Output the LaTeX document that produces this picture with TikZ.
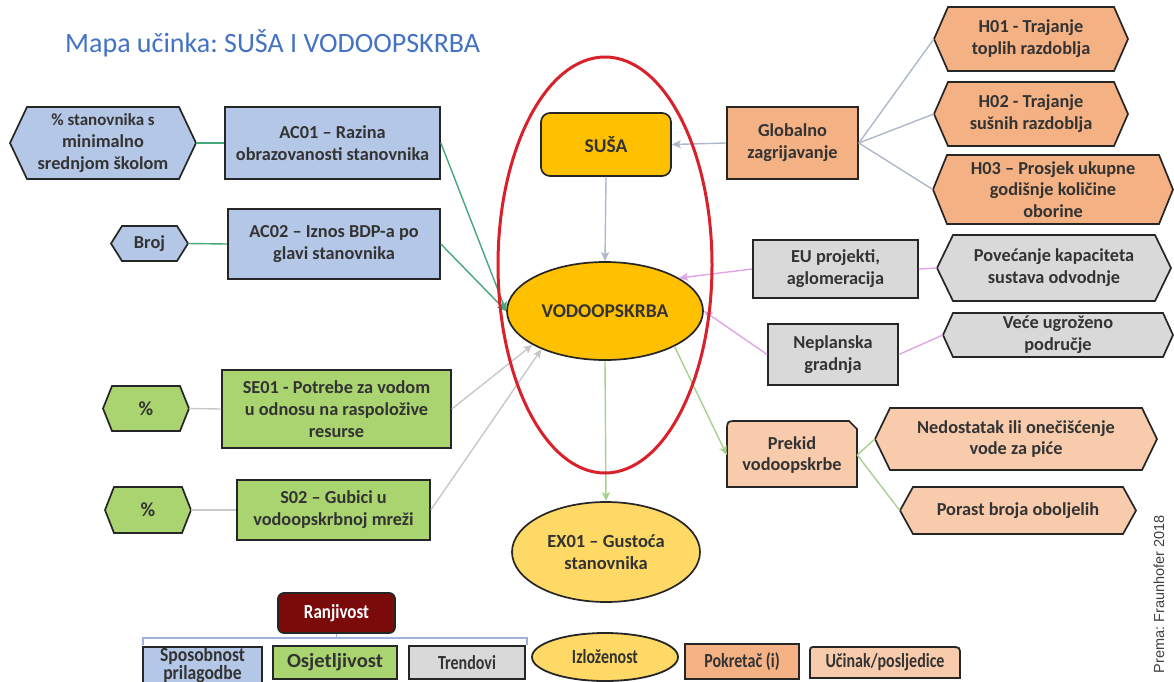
\documentclass[tikz,border=0pt]{standalone}
\usepackage{fontspec}
\usepackage{graphicx}
\setmainfont{Carlito}
\newfontfamily\creditfont{Liberation Sans}
\usetikzlibrary{shapes.geometric,arrows.meta}
\frenchspacing

\definecolor{boxline}{HTML}{262626}
\definecolor{txt}{HTML}{333333}
\definecolor{capblue}{HTML}{B4C7E7}
\definecolor{sensgreen}{HTML}{A9D470}
\definecolor{driver}{HTML}{F4B183}
\definecolor{impact}{HTML}{F8CBAD}
\definecolor{trendgray}{HTML}{D9D9D9}
\definecolor{hazard}{HTML}{FFC000}
\definecolor{expo}{HTML}{FFD966}
\definecolor{vulnred}{HTML}{7B0A0A}
\definecolor{ringred}{HTML}{D9212B}
\definecolor{titleblue}{HTML}{4472C4}
\definecolor{linkteal}{HTML}{45A87A}
\definecolor{linkslate}{HTML}{ADB9CA}
\definecolor{linkgray}{HTML}{C8C8C8}
\definecolor{linkpink}{HTML}{DFA6E6}
\definecolor{linkgreen}{HTML}{A9D18E}
\definecolor{bracketblue}{HTML}{9DB3D8}
\definecolor{creditgray}{HTML}{404040}

% horizontally condensed label text
\newcommand{\cond}[2][0.8]{\scalebox{#1}[1]{#2}}

% hexagon: name, cx, cy, width, height, point length, fill, text
\newcommand{\hexnode}[8]{%
  \filldraw[hexshape, fill=#7]
    ({#2-#4/2},#3) -- ({#2-#4/2+#6},{#3-#5/2}) -- ({#2+#4/2-#6},{#3-#5/2})
    -- ({#2+#4/2},#3) -- ({#2+#4/2-#6},{#3+#5/2}) -- ({#2-#4/2+#6},{#3+#5/2}) -- cycle;
  \node[celltext, minimum width=#4, minimum height=#5] (#1) at (#2,#3) {#8};
}

\tikzset{
  celltext/.style={text=txt, align=center, inner sep=0pt,
    font=\fontsize{18.3}{21.8}\selectfont\bfseries},
  cellbox/.style={celltext, draw=boxline, line width=1.7pt},
  hexshape/.style={draw=boxline, line width=1.7pt},
  bigtext/.style={font=\fontsize{19.5}{23}\selectfont\bfseries},
  legtext/.style={text=txt, align=center, inner sep=0pt,
    font=\fontsize{20}{17}\selectfont\bfseries},
  legbox/.style={legtext, draw=boxline, line width=1.8pt},
  link/.style={line width=1.4pt},
  arrowed/.style={-{Stealth[length=9pt,width=8pt,inset=2pt]}},
}

\begin{document}
\begin{tikzpicture}[x=1pt,y=-1pt]
\clip (0,0) rectangle (1174,681);
\fill[white] (0,0) rectangle (1174,681);

% heading
\node[anchor=base west, inner sep=0pt, text=titleblue,
      font=\fontsize{28}{32}\selectfont] (title) at (65,52)
      {Mapa učinka: SUŠA I VODOOPSKRBA};

% adaptive capacity (blue)
\hexnode{stan}{103}{143}{186}{72}{17}{capblue}{\fontsize{17}{20}\selectfont \% stanovnika s\\minimalno\\srednjom školom}
\node[cellbox, fill=capblue, minimum width=215, minimum height=72] (ac1) at (332.5,143)
  {AC01 – Razina\\obrazovanosti stanovnika};
\hexnode{broj}{149.5}{243.5}{77}{35}{11}{capblue}{Broj}
\node[cellbox, fill=capblue, minimum width=212, minimum height=70] (ac2) at (334,244)
  {AC02 – Iznos BDP-a po\\glavi stanovnika};

% sensitivity (green)
\hexnode{pcta}{146}{408.5}{86}{45}{9}{sensgreen}{\fontsize{20}{22}\selectfont\%}
\node[cellbox, fill=sensgreen, minimum width=229, minimum height=78] (se1) at (336.5,409)
  {SE01 - Potrebe za vodom\\u odnosu na raspoložive\\resurse};
\hexnode{pctb}{148}{510}{86}{46}{9}{sensgreen}{\fontsize{20}{22}\selectfont\%}
\node[cellbox, fill=sensgreen, minimum width=193, minimum height=60] (s02) at (333.5,510)
  {S02 – Gubici u\\vodoopskrbnoj mreži};

% hazard and impact
\node[cellbox, bigtext, fill=hazard, rounded corners=9pt, minimum width=130, minimum height=63]
  (susa) at (606,144.5) {SUŠA};
\node[ellipse, draw=boxline, line width=1.7pt, fill=hazard, text=txt, inner sep=0pt,
      minimum width=196, minimum height=98, bigtext] (vod) at (605,311) {VODOOPSKRBA};
\node[ellipse, draw=boxline, line width=1.7pt, fill=expo, text=txt, inner sep=0pt, align=center,
      minimum width=188, minimum height=100, font=\fontsize{18.5}{22}\selectfont\bfseries]
  (ex1) at (606,552) {EX01 – Gustoća\\stanovnika};

% drivers (orange)
\node[cellbox, fill=driver, minimum width=131, minimum height=72] (glob) at (792.5,143)
  {Globalno\\zagrijavanje};
\hexnode{hone}{1031}{39}{194}{64}{14}{driver}{H01 - Trajanje\\toplih razdoblja}
\hexnode{htwo}{1031}{114}{194}{64}{14}{driver}{H02 - Trajanje\\sušnih razdoblja}
\hexnode{hthree}{1053}{189.5}{240}{69}{14}{driver}{H03 – Prosjek ukupne\\godišnje količine\\oborine}

% trends (gray)
\node[cellbox, fill=trendgray, minimum width=165, minimum height=58] (eu) at (835.5,269)
  {EU projekti,\\aglomeracija};
\hexnode{pov}{1054}{268}{234}{66}{16}{trendgray}{Povećanje kapaciteta\\sustava odvodnje}
\node[cellbox, fill=trendgray, minimum width=130, minimum height=61] (nep) at (833,354.5)
  {Neplanska\\gradnja};
\hexnode{vece}{1058}{335}{230}{44}{10}{trendgray}{Veće ugroženo\\područje}

% consequences (light salmon)
\filldraw[hexshape, fill=impact] (727,487) -- (727,431) .. controls (727,421) .. (737,421)
  -- (849,421) -- (857,429) -- (857,487) -- cycle;
\node[celltext, minimum width=130, minimum height=66] (prek) at (792,455)
  {Prekid\\vodoopskrbe};
\hexnode{ned}{1016}{439}{282}{62}{15}{impact}{Nedostatak ili onečišćenje\\vode za piće}
\hexnode{por}{1018}{510.5}{236}{47}{13}{impact}{Porast broja oboljelih}

% connectors
\draw[link, linkteal] (stan.east) -- (ac1.west);
\draw[link, linkteal] (broj.east) -- (ac2.west);
\draw[link, linkteal, arrowed] (ac1.east) -- (vod.west);
\draw[link, linkteal, arrowed] (ac2.east) -- (vod.west);
\draw[link, linkgray] (pcta.east) -- (se1.west);
\draw[link, linkgray] (pctb.east) -- (s02.west);
\draw[link, linkgray, arrowed] (se1.east) -- (vod.205);
\draw[link, linkgray, arrowed] (s02.east) -- (vod.211);
\draw[link, linkslate, arrowed] (glob.west) -- (susa.east);
\draw[link, linkslate] (glob.east) -- (hone.west);
\draw[link, linkslate] (glob.east) -- (htwo.west);
\draw[link, linkslate] (glob.east) -- (hthree.west);
\draw[link, linkslate, arrowed] (susa.south) -- (vod.north);
\draw[link, linkpink] (eu.east) -- (pov.west);
\draw[link, linkpink, arrowed] (eu.west) -- (vod.24);
\draw[link, linkpink] (nep.east) -- (vece.west);
\draw[link, linkpink, arrowed] (nep.west) -- (vod.east);
\draw[link, linkgreen, arrowed] (vod.south) -- (ex1.north);
\draw[link, linkgreen, arrowed] (vod.-27) -- (prek.west);
\draw[link, linkgreen] (prek.east) -- (ned.west);
\draw[link, linkgreen] (prek.east) -- (por.west);

% focus ring round hazard and impact
\node[ellipse, draw=ringred, line width=3pt, inner sep=0pt,
      minimum width=214, minimum height=416] (ring) at (605,265) {};

% key
\node[legbox, fill=vulnred, text=white, rounded corners=6pt, minimum width=117, minimum height=40,
      font=\fontsize{20}{22}\selectfont\bfseries] (ranj) at (336.5,613) {\cond[0.85]{Ranjivost}};
\coordinate (brk) at (336.5,638);
\draw[bracketblue, line width=1.2pt] (143,645) -- (143,638) -- (527,638) -- (527,645);
\draw[bracketblue, line width=1.2pt] (ranj.south) -- (brk);
\node[legbox, fill=capblue, minimum width=119, minimum height=54, anchor=north] (spos) at (202.5,646) {};
\node[legtext, font=\fontsize{20}{16}\selectfont\bfseries] (spostxt) at (202.5,665)
  {\cond[0.88]{Sposobnost}\\\cond[0.88]{prilagodbe}};
\node[legbox, fill=sensgreen, minimum width=124, minimum height=33] (osj) at (335,662.5) {\cond[1.03]{Osjetljivost}};
\node[legbox, fill=trendgray, minimum width=116, minimum height=33] (trend) at (467,662.5) {\cond{Trendovi}};
\node[ellipse, legtext, draw=boxline, line width=1.8pt, fill=expo, minimum width=146, minimum height=48]
  (izl) at (605,657) {\cond{Izloženost}};
\node[legbox, fill=driver, minimum width=114, minimum height=35] (pokr) at (742,661.5) {\cond{Pokretač (i)}};
\filldraw[draw=boxline, line width=1.8pt, fill=impact] (810,678) -- (810,653) .. controls (810,647) .. (816,647)
  -- (951,647) .. controls (960,647) .. (960,656) -- (960,678) -- cycle;
\node[legtext] (ucin) at (885,662.5) {\cond{Učinak/posljedice}};

% source note
\node[rotate=90, inner sep=0pt, text=creditgray, font=\creditfont\fontsize{14.5}{16}\selectfont]
  (credit) at (1159,594) {Prema: Fraunhofer 2018};
\end{tikzpicture}
\end{document}
